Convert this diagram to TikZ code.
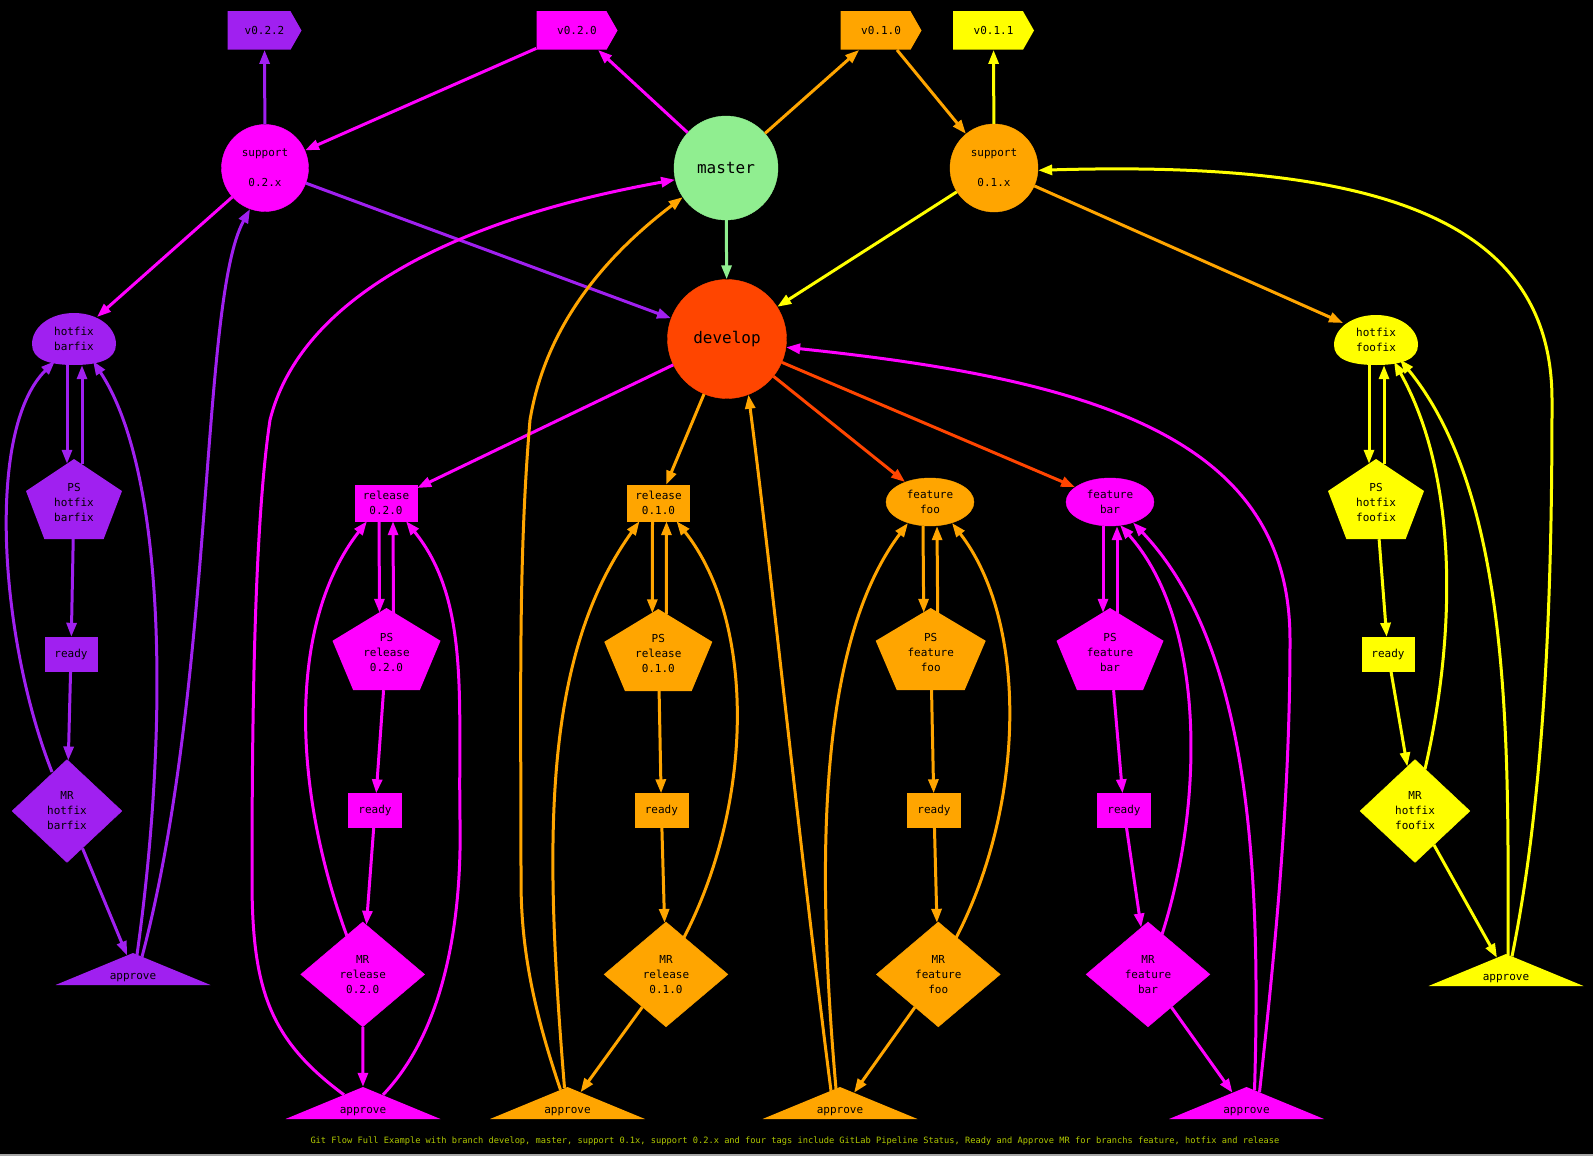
\documentclass[tikz,border=0pt]{standalone}
\usepackage{fontspec}
\setmainfont{DejaVu Sans Mono}
\usetikzlibrary{shapes.geometric,arrows.meta,calc}
\definecolor{purp}{HTML}{A020F0}
\definecolor{mag}{HTML}{FF00FF}
\definecolor{org}{HTML}{FFA500}
\definecolor{yel}{HTML}{FFFF00}
\definecolor{lgreen}{HTML}{90EE90}
\definecolor{ored}{HTML}{FF4500}
\definecolor{capcol}{HTML}{B0C800}
\tikzset{
  lbl/.style={font=\fontsize{11}{15}\selectfont, align=center, text=black, inner sep=0pt},
  circ/.style={lbl, circle, fill=#1, draw=#1},
  box/.style={lbl, rectangle, fill=#1, draw=#1},
  ell/.style={lbl, ellipse, fill=#1, draw=#1},
  dia/.style={lbl, diamond, fill=#1, draw=#1},
  egg/.style={lbl, rectangle, path picture={\fill[#1] let \p1=(path picture bounding box.center), \p2=(path picture bounding box.north east), \n1={\x2-\x1}, \n2={\y2-\y1} in
     (\x1,{\y1-\n2}) .. controls ({\x1+0.62*\n1},{\y1-\n2}) and ({\x1+\n1},{\y1-0.77*\n2}) .. ({\x1+\n1},{\y1-0.2*\n2})
     .. controls ({\x1+\n1},{\y1+0.46*\n2}) and ({\x1+0.57*\n1},{\y1+\n2}) .. (\x1,{\y1+\n2})
     .. controls ({\x1-0.57*\n1},{\y1+\n2}) and ({\x1-\n1},{\y1+0.46*\n2}) .. ({\x1-\n1},{\y1-0.2*\n2})
     .. controls ({\x1-\n1},{\y1-0.77*\n2}) and ({\x1-0.62*\n1},{\y1-\n2}) .. (\x1,{\y1-\n2}) -- cycle;}},
  pent/.style={lbl, rectangle, path picture={\fill[#1] (path picture bounding box.north) -- ($(path picture bounding box.north east)!0.4!(path picture bounding box.south east)$) -- ($(path picture bounding box.south west)!0.809!(path picture bounding box.south east)$) -- ($(path picture bounding box.south west)!0.191!(path picture bounding box.south east)$) -- ($(path picture bounding box.north west)!0.4!(path picture bounding box.south west)$) -- cycle;}},
  tri/.style={font=\fontsize{11}{15}\selectfont, text=black, inner sep=0pt, rectangle, minimum width=155, text height=26pt, text depth=6pt, path picture={\fill[#1] (path picture bounding box.north) -- (path picture bounding box.south east) -- (path picture bounding box.south west) -- cycle;}},
  tagshape/.style={lbl, rectangle, minimum width=81, minimum height=38.5, path picture={\fill[#1] (path picture bounding box.north west) -- ([xshift=-11pt]path picture bounding box.north east) -- (path picture bounding box.east) -- ([xshift=-11pt]path picture bounding box.south east) -- (path picture bounding box.south west) -- cycle;}},
  big/.style={font=\fontsize{16}{19}\selectfont},
  e/.style={line width=3pt, draw=#1, -{Triangle[length=14pt,width=10pt]}},
}
\newcommand{\pslbl}[2]{\mbox{}\\[1pt]PS\\#1\\#2}
\begin{document}
\begin{tikzpicture}[x=1pt,y=-1pt]
\fill[black] (0,0) rectangle (1593,1156);
\useasboundingbox (0,0) rectangle (1593,1156);
\fill[gray!70] (0,1154) rectangle (1593,1156);

% tags
\node[tagshape=purp, minimum width=74] (v022) at (264.5,30.5) {v0.2.2};
\node[tagshape=mag] (v020) at (577,30.5) {v0.2.0};
\node[tagshape=org] (v010) at (881,30.5) {v0.1.0};
\node[tagshape=yel] (v011) at (993.5,30.5) {v0.1.1};

% main circles
\node[circ=mag, minimum size=87] (s02) at (265,168) {support\\[15pt]0.2.x};
\node[circ=lgreen, big, minimum size=104] (master) at (726,168) {master};
\node[circ=org, minimum size=88] (s01) at (994,168) {support\\[15pt]0.1.x};
\node[circ=ored, big, minimum size=119] (dev) at (727,339) {develop};

% hotfix barfix
\node[egg=purp, minimum width=84, minimum height=52] (hbar) at (74,339) {hotfix\\barfix};
\node[pent=purp, minimum width=96, minimum height=80] (psbar) at (74,499) {\pslbl{hotfix}{barfix}};
\node[box=purp, minimum width=52, minimum height=34] (rdbar) at (71,654) {ready};
\node[dia=purp, minimum width=110, minimum height=103] (mrbar) at (67,811) {MR\\hotfix\\barfix};
\node[tri=purp] (apbar) at (133,969) {approve};

% hotfix foofix
\node[egg=yel, minimum width=84, minimum height=50] (hfoo) at (1376,340) {hotfix\\foofix};
\node[pent=yel, minimum width=96, minimum height=80] (psfoo) at (1376,499) {\pslbl{hotfix}{foofix}};
\node[box=yel, minimum width=52, minimum height=34] (rdfoo) at (1388,654) {ready};
\node[dia=yel, minimum width=110, minimum height=103] (mrfoo) at (1415,811) {MR\\hotfix\\foofix};
\node[tri=yel] (apfoo) at (1506,970) {approve};

% release 0.2.0
\node[box=mag, minimum width=62, minimum height=36] (rel020) at (386,503) {release\\0.2.0};
\node[pent=mag, minimum width=108, minimum height=82] (ps020) at (386.5,649) {\pslbl{release}{0.2.0}};
\node[box=mag, minimum width=53, minimum height=34] (rd020) at (375,810.5) {ready};
\node[dia=mag, minimum width=124, minimum height=105] (mr020) at (362.7,974.4) {MR\\release\\0.2.0};
\node[tri=mag] (ap020) at (363,1103) {approve};

% release 0.1.0
\node[box=org, minimum width=62, minimum height=36] (rel010) at (658.5,503) {release\\0.1.0};
\node[pent=org, minimum width=108, minimum height=82] (ps010) at (658.3,650) {\pslbl{release}{0.1.0}};
\node[box=org, minimum width=53, minimum height=34] (rd010) at (661.4,810.5) {ready};
\node[dia=org, minimum width=124, minimum height=105] (mr010) at (666,974.4) {MR\\release\\0.1.0};
\node[tri=org] (ap010) at (567.5,1103) {approve};

% feature foo
\node[ell=org, minimum width=88, minimum height=48] (ffoo) at (930,502) {feature\\foo};
\node[pent=org, minimum width=110, minimum height=82] (psffoo) at (930.7,649) {\pslbl{feature}{foo}};
\node[box=org, minimum width=53, minimum height=34] (rdffoo) at (934,810.5) {ready};
\node[dia=org, minimum width=124, minimum height=105] (mrffoo) at (938.3,974.4) {MR\\feature\\foo};
\node[tri=org] (apffoo) at (840,1103) {approve};

% feature bar
\node[ell=mag, minimum width=88, minimum height=48] (fbar) at (1110,502) {feature\\bar};
\node[pent=mag, minimum width=107, minimum height=82] (psfbar) at (1110,649) {\pslbl{feature}{bar}};
\node[box=mag, minimum width=53, minimum height=34] (rdfbar) at (1124,810.5) {ready};
\node[dia=mag, minimum width=124, minimum height=105] (mrfbar) at (1148,974.4) {MR\\feature\\bar};
\node[tri=mag] (apfbar) at (1246.5,1103) {approve};

% caption
\node[font=\fontsize{8.7}{10}\selectfont, text=capcol, inner sep=0pt] (cap) at (795,1141) {Git Flow Full Example with branch develop, master, support 0.1x, support 0.2.x and four tags include GitLab Pipeline Status, Ready and Approve MR for branchs feature, hotfix and release};

% top edges
\draw[e=purp] (s02) -- (v022);
\draw[e=mag] (v020) -- (s02);
\draw[e=mag] (master) -- (v020);
\draw[e=org] (master) -- (v010);
\draw[e=org] (v010) -- (s01);
\draw[e=yel] (s01) -- (v011);
\draw[e=lgreen] (master) -- (dev);
\draw[e=purp] (s02) -- (dev);
\draw[e=mag] (s02) -- ($(hbar)+(23,-22)$);
\draw[e=yel] (s01) -- (dev);
\draw[e=org] (s01) -- ($(hfoo)+(-33,-17)$);
\draw[e=mag] (dev) -- (rel020);
\draw[e=org] (dev) -- (rel010);
\draw[e=ored] (dev) -- (ffoo);
\draw[e=ored] (dev) -- (fbar);

% purple cluster
\draw[e=purp] ($(hbar.south)+(-7,0)$) -- ($(psbar.north)+(-7,5)$);
\draw[e=purp] ($(psbar.north)+(8,5.5)$) -- ($(hbar.south)+(8,0)$);
\draw[e=purp] (psbar) -- (rdbar);
\draw[e=purp] (rdbar) -- (mrbar);
\draw[e=purp] (mrbar) -- ($(apbar.north)+(-6,2.5)$);
\draw[e=purp] ($(mrbar)+(-15,-39)$) .. controls (0,640) and (-15,430) .. ($(hbar)+(-19,22)$);
\draw[e=purp] ($(apbar.north)+(4,2)$) .. controls (170,720) and (165,470) .. ($(hbar)+(19,22)$);
\draw[e=purp] ($(apbar.north)+(9,4)$) .. controls (215,680) and (200,300) .. (s02.250);

% yellow cluster
\draw[e=yel] ($(hfoo.south)+(-7,0)$) -- ($(psfoo.north)+(-7,5)$);
\draw[e=yel] ($(psfoo.north)+(8,5.5)$) -- ($(hfoo.south)+(8,0)$);
\draw[e=yel] (psfoo) -- (rdfoo);
\draw[e=yel] (rdfoo) -- (mrfoo);
\draw[e=yel] (mrfoo) -- ($(apfoo.north)+(-9,4)$);
\draw[e=yel] ($(mrfoo)+(10,-42)$) .. controls (1455,640) and (1460,480) .. ($(hfoo)+(18,21.5)$);
\draw[e=yel] ($(apfoo.north)+(2,1)$) .. controls (1508,760) and (1515,500) .. ($(hfoo)+(24,19.5)$);
\draw[e=yel] ($(apfoo.north)+(6,2.5)$) .. controls (1548,780) and (1552,560) .. (1552,400) .. controls (1552,220) and (1380,160) .. (s01.-3);

% release 0.2.0 cluster
\draw[e=mag] ($(rel020.south)+(-7,0)$) -- ($(ps020.north)+(-7,5)$);
\draw[e=mag] ($(ps020.north)+(7,5)$) -- ($(rel020.south)+(7,0)$);
\draw[e=mag] (ps020) -- (rd020);
\draw[e=mag] (rd020) -- (mr020);
\draw[e=mag] (mr020) -- (ap020);
\draw[e=mag] ($(mr020)+(-16,-39)$) .. controls (290,780) and (290,620) .. ($(rel020.south)+(-19,0)$);
\draw[e=mag] ($(ap020.north)+(20,8)$) .. controls (445,1030) and (462,920) .. (460,820) .. controls (458,700) and (470,600) .. ($(rel020.south)+(20,0)$);
\draw[e=mag] ($(ap020.north)+(-19,8)$) .. controls (270,1040) and (252,990) .. (252,880) .. controls (252,700) and (255,520) .. (270,420) .. controls (300,300) and (450,220) .. (master.193);

% release 0.1.0 cluster
\draw[e=org] ($(rel010.south)+(-6,0)$) -- ($(ps010.north)+(-6,4.5)$);
\draw[e=org] ($(ps010.north)+(8,5.5)$) -- ($(rel010.south)+(8,0)$);
\draw[e=org] (ps010) -- (rd010);
\draw[e=org] (rd010) -- (mr010);
\draw[e=org] (mr010) -- ($(ap010.north)+(13,5.5)$);
\draw[e=org] ($(mr010)+(18,-37)$) .. controls (755,800) and (755,620) .. ($(rel010.south)+(18,0)$);
\draw[e=org] ($(ap010.north)+(-3,1)$) .. controls (545,850) and (540,660) .. ($(rel010.south)+(-19,0)$);
\draw[e=org] ($(ap010.north)+(-7,3)$) .. controls (530,1000) and (521,940) .. (521,880) .. controls (521,700) and (518,560) .. (530,420) .. controls (545,330) and (600,260) .. (master.214);

% feature foo cluster
\draw[e=org] ($(ffoo.south)+(-7,0)$) -- ($(psffoo.north)+(-7,5)$);
\draw[e=org] ($(psffoo.north)+(7,5)$) -- ($(ffoo.south)+(7,0)$);
\draw[e=org] (psffoo) -- (rdffoo);
\draw[e=org] (rdffoo) -- (mrffoo);
\draw[e=org] (mrffoo) -- ($(apffoo.north)+(14,6)$);
\draw[e=org] ($(mrffoo)+(18,-37)$) .. controls (1027,800) and (1027,620) .. ($(ffoo)+(22,21)$);
\draw[e=org] ($(apffoo.north)+(-9,4)$) .. controls (800,850) and (770,560) .. (dev.-69);
\draw[e=org] ($(apffoo.north)+(-4,2)$) .. controls (815,850) and (820,640) .. ($(ffoo)+(-22,21)$);

% feature bar cluster
\draw[e=mag] ($(fbar.south)+(-7,0)$) -- ($(psfbar.north)+(-7,5)$);
\draw[e=mag] ($(psfbar.north)+(7,5)$) -- ($(fbar.south)+(7,0)$);
\draw[e=mag] (psfbar) -- (rdfbar);
\draw[e=mag] (rdfbar) -- (mrfbar);
\draw[e=mag] (mrfbar) -- ($(apfbar.north)+(-14,6)$);
\draw[e=mag] ($(mrfbar)+(14,-40)$) .. controls (1205,800) and (1205,620) .. ($(fbar)+(10,23)$);
\draw[e=mag] ($(apfbar.north)+(8,3.5)$) .. controls (1262,850) and (1245,640) .. ($(fbar)+(23,20.5)$);
\draw[e=mag] ($(apfbar.north)+(13,5.5)$) .. controls (1275,950) and (1290,800) .. (1290,640) .. controls (1290,440) and (1100,380) .. (dev.-8);
\end{tikzpicture}
\end{document}
